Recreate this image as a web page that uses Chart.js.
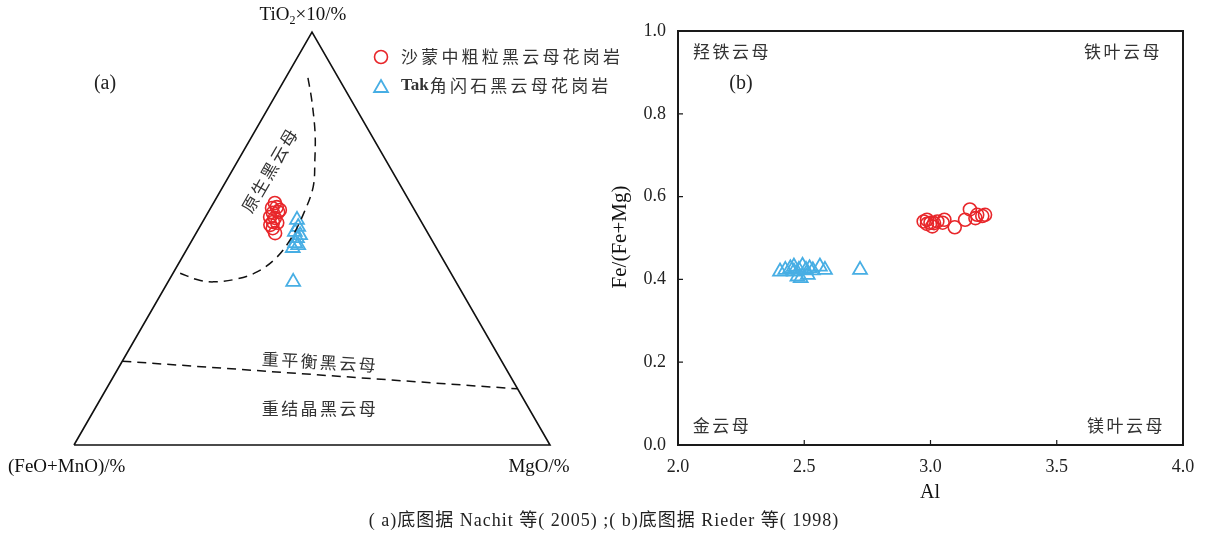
<!DOCTYPE html>
<html><head><meta charset="utf-8">
<script src="https://cdn.jsdelivr.net/npm/chart.js@4.4.1/dist/chart.umd.min.js"></script>
<style>
html,body{margin:0;padding:0;background:#fff;}
#wrap{position:relative;width:1207px;height:544px;background:#fff;}
canvas{position:absolute;left:0;top:0;}
</style></head><body>
<div id="wrap">
<canvas id="ca" width="1207" height="544"></canvas>
<canvas id="cb" width="1207" height="544"></canvas>
</div>
<script>
// ---------------- DATA ----------------
const seriesNames = ['沙蒙中粗粒黑云母花岗岩', 'Tak角闪石黑云母花岗岩'];

// (a) ternary: TiO2×10 (%) and MgO (%) ; (FeO+MnO) = remainder
const shamengTiO2 = [58.6, 57.6, 57.4, 56.4, 56.2, 55.2, 55.0, 54.0, 53.8, 52.5, 51.3, 56.9, 53.3];
const shamengMgO  = [12.9, 13.8, 12.9, 14.7, 13.7, 13.6, 14.7, 14.8, 15.8, 15.5, 16.6, 14.8, 14.6];
const takTiO2     = [54.5, 52.8, 51.6, 50.8, 50.1, 48.9, 48.4, 47.7, 39.5];
const takMgO      = [19.6, 20.7, 20.6, 22.1, 21.8, 22.0, 22.9, 22.1, 26.3];

// ternary frame vertices (TiO2, MgO)
const frameTiO2 = [0, 0, 100, 0];
const frameMgO  = [0, 100, 0, 0];
// field boundary: primary biotite (dashed curve)
const primaryTiO2 = [88.9, 83.5, 75.5, 69.0, 62.5, 56.2, 50.4, 45.5, 41.9, 40.2, 39.5, 40.0, 41.6];
const primaryMgO  = [4.7, 8.2, 12.9, 16.1, 19.0, 20.2, 20.6, 19.9, 17.5, 14.1, 9.5, 6.0, 1.5];
// field boundary: re-equilibrated / recrystallized (dashed line)
const reeqTiO2 = [20.3, 13.6];
const reeqMgO  = [0, 86.4];

// (b) Al vs Fe/(Fe+Mg)
const shamengAl   = [2.973, 2.986, 3.000, 3.014, 3.027, 3.048, 3.055, 3.007, 3.096, 3.137, 3.156, 3.178, 3.185, 3.205, 3.216, 2.986];
const shamengFeMg = [0.540, 0.544, 0.537, 0.536, 0.540, 0.537, 0.544, 0.528, 0.526, 0.544, 0.569, 0.548, 0.556, 0.553, 0.556, 0.534];
const takAl       = [2.404, 2.425, 2.445, 2.459, 2.473, 2.479, 2.493, 2.507, 2.514, 2.521, 2.534, 2.562, 2.582, 2.721, 2.459, 2.486];
const takFeMg     = [0.419, 0.423, 0.427, 0.431, 0.407, 0.423, 0.433, 0.423, 0.411, 0.427, 0.422, 0.431, 0.423, 0.423, 0.419, 0.403];

const xTicks = [2.0, 2.5, 3.0, 3.5, 4.0];
const xTickLabels = ['2.0', '2.5', '3.0', '3.5', '4.0'];
const yTicks = [0.0, 0.2, 0.4, 0.6, 0.8, 1.0];
const yTickLabels = ['0.0', '0.2', '0.4', '0.6', '0.8', '1.0'];

// ---------------- HELPERS ----------------
const RED = '#e8262a', BLUE = '#47aee4';
const SERIF = "'Liberation Serif','Times New Roman',serif";
const CJK = "'Noto Sans CJK SC','Noto Sans CJK JP',sans-serif";
const H3 = Math.sqrt(3) / 2;
function tern(tArr, mArr) {
  return tArr.map((t, i) => ({ x: (mArr[i] + t / 2) / 100, y: (t / 100) * H3 }));
}
function pts(xs, ys) { return xs.map((x, i) => ({ x, y: ys[i] })); }

function drawCircle(ctx, x, y, r, color) {
  ctx.save(); ctx.strokeStyle = color; ctx.lineWidth = 1.6;
  ctx.beginPath(); ctx.arc(x, y, r, 0, Math.PI * 2); ctx.stroke(); ctx.restore();
}
function drawTri(ctx, x, y, r, color) {
  ctx.save(); ctx.strokeStyle = color; ctx.lineWidth = 1.8;
  ctx.beginPath();
  let a = 0;
  for (let k = 0; k < 3; k++) {
    const px = x + Math.sin(a) * r, py = y - Math.cos(a) * r;
    if (k === 0) ctx.moveTo(px, py); else ctx.lineTo(px, py);
    a += 2 * Math.PI / 3;
  }
  ctx.closePath(); ctx.stroke(); ctx.restore();
}
function text(ctx, s, x, y, font, color, align, spacing, rot) {
  ctx.save();
  ctx.font = font; ctx.fillStyle = color || '#222';
  ctx.textAlign = align || 'center'; ctx.textBaseline = 'middle';
  if ('letterSpacing' in ctx) ctx.letterSpacing = (spacing || 0) + 'px';
  ctx.translate(x, y);
  if (rot) ctx.rotate(rot);
  ctx.fillText(s, 0, 0);
  ctx.restore();
}

// ---------------- CHART (a) ----------------
const textA = {
  id: 'textA',
  afterDraw(chart) {
    const ctx = chart.ctx;
    // apex label TiO2×10/%
    ctx.save();
    ctx.fillStyle = '#111'; ctx.textBaseline = 'middle';
    const f1 = '19px ' + SERIF, f2 = '12px ' + SERIF;
    ctx.font = f1; const w1 = ctx.measureText('TiO').width, w3 = ctx.measureText('×10/%').width;
    ctx.font = f2; const w2 = ctx.measureText('2').width;
    let x0 = 303 - (w1 + w2 + w3) / 2;
    ctx.font = f1; ctx.textAlign = 'left'; ctx.fillText('TiO', x0, 15);
    ctx.font = f2; ctx.fillText('2', x0 + w1, 21);
    ctx.font = f1; ctx.fillText('×10/%', x0 + w1 + w2, 15);
    ctx.restore();
    text(ctx, '(a)', 105, 84, '20px ' + SERIF, '#222');
    text(ctx, '(FeO+MnO)/%', 8, 467, '19px ' + SERIF, '#111', 'left');
    text(ctx, 'MgO/%', 539, 467, '19px ' + SERIF, '#111');
    // field names
    text(ctx, '原生黑云母', 270, 170, '17px ' + CJK, '#333', 'center', 2, -Math.PI / 3);
    text(ctx, '重平衡黑云母', 320, 362, '17px ' + CJK, '#333', 'center', 2.4, 0.06);
    text(ctx, '重结晶黑云母', 320, 409, '17px ' + CJK, '#333', 'center', 2.4);
    // legend
    drawCircle(ctx, 381, 57, 6.5, RED);
    drawTri(ctx, 381, 88, 8, BLUE);
    text(ctx, seriesNames[0], 401, 57, '17px ' + CJK, '#333', 'left', 3.2);
    ctx.save();
    ctx.font = 'bold 17px ' + SERIF; const wt = ctx.measureText('Tak').width;
    ctx.restore();
    text(ctx, 'Tak', 401, 86, 'bold 17px ' + SERIF, '#333', 'left');
    text(ctx, seriesNames[1].slice(3), 401 + wt + 1, 86, '17px ' + CJK, '#333', 'left', 3.2);
  }
};

new Chart(document.getElementById('ca'), {
  type: 'scatter',
  data: {
    datasets: [
      { data: tern(frameTiO2, frameMgO), showLine: true, borderColor: '#111', borderWidth: 1.6,
        pointRadius: 0, fill: false, clip: false },
      { data: tern(primaryTiO2, primaryMgO), showLine: true, borderColor: '#111', borderWidth: 1.5,
        borderDash: [9, 6], pointRadius: 0, tension: 0.35, fill: false, clip: false },
      { data: tern(reeqTiO2, reeqMgO), showLine: true, borderColor: '#111', borderWidth: 1.5,
        borderDash: [9, 6], pointRadius: 0, fill: false, clip: false },
      { label: seriesNames[0], data: tern(shamengTiO2, shamengMgO), pointStyle: 'circle', pointRadius: 6.5,
        borderColor: RED, backgroundColor: 'rgba(0,0,0,0)', borderWidth: 1.6, clip: false },
      { label: seriesNames[1], data: tern(takTiO2, takMgO), pointStyle: 'triangle', pointRadius: 8,
        borderColor: BLUE, backgroundColor: 'rgba(0,0,0,0)', borderWidth: 1.8, clip: false }
    ]
  },
  options: {
    responsive: false, animation: false, devicePixelRatio: 1,
    layout: { padding: { left: 74, right: 1207 - 550, top: 32, bottom: 544 - 445 } },
    plugins: { legend: { display: false }, tooltip: { enabled: false } },
    scales: {
      x: { type: 'linear', min: 0, max: 1, display: false },
      y: { type: 'linear', min: 0, max: H3, display: false }
    }
  },
  plugins: [textA]
});

// ---------------- CHART (b) ----------------
const frameB = {
  id: 'frameB',
  afterDatasetsDraw(chart) {
    const ctx = chart.ctx, a = chart.chartArea;
    const xs = chart.scales.x, ys = chart.scales.y;
    ctx.save();
    ctx.strokeStyle = '#1a1a1a'; ctx.lineWidth = 2;
    ctx.strokeRect(a.left, a.top, a.right - a.left, a.bottom - a.top);
    ctx.lineWidth = 1.2;
    ctx.beginPath();
    xTicks.forEach(v => { const p = xs.getPixelForValue(v); ctx.moveTo(p, a.bottom); ctx.lineTo(p, a.bottom - 5); });
    yTicks.forEach(v => { const p = ys.getPixelForValue(v); ctx.moveTo(a.left, p); ctx.lineTo(a.left + 5, p); });
    ctx.stroke();
    ctx.restore();
  },
  afterDraw(chart) {
    const ctx = chart.ctx;
    text(ctx, 'Fe/(Fe+Mg)', 620, 237, '21px ' + SERIF, '#111', 'center', 0, -Math.PI / 2);
    text(ctx, 'Al', 930, 493, '20px ' + SERIF, '#111');
    text(ctx, '羟铁云母', 732, 52, '17px ' + CJK, '#333', 'center', 2.5);
    text(ctx, '铁叶云母', 1123, 52, '17px ' + CJK, '#333', 'center', 2.5);
    text(ctx, '(b)', 741, 84, '20px ' + SERIF, '#222');
    text(ctx, '金云母', 722, 426, '17px ' + CJK, '#333', 'center', 2.5);
    text(ctx, '镁叶云母', 1126, 426, '17px ' + CJK, '#333', 'center', 2.5);
    ctx.save();
    ctx.font = "18px 'Liberation Serif','Noto Sans CJK SC',serif";
    ctx.fillStyle = '#222'; ctx.textAlign = 'center'; ctx.textBaseline = 'middle';
    if ('letterSpacing' in ctx) ctx.letterSpacing = '1px';
    ctx.fillText('( a)底图据 Nachit 等( 2005) ;( b)底图据 Rieder 等( 1998)', 604, 521, 503);
    ctx.restore();
  }
};

new Chart(document.getElementById('cb'), {
  type: 'scatter',
  data: {
    datasets: [
      { label: seriesNames[0], data: pts(shamengAl, shamengFeMg), pointStyle: 'circle', pointRadius: 6.5,
        borderColor: RED, backgroundColor: 'rgba(0,0,0,0)', borderWidth: 1.6 },
      { label: seriesNames[1], data: pts(takAl, takFeMg), pointStyle: 'triangle', pointRadius: 8,
        borderColor: BLUE, backgroundColor: 'rgba(0,0,0,0)', borderWidth: 1.8 }
    ]
  },
  options: {
    responsive: false, animation: false, devicePixelRatio: 1,
    layout: { padding: { left: 600, right: 1207 - 1183, top: 31, bottom: 39 } },
    plugins: { legend: { display: false }, tooltip: { enabled: false } },
    scales: {
      x: {
        type: 'linear', min: 2, max: 4,
        afterBuildTicks: s => { s.ticks = xTicks.map(v => ({ value: v })); },
        afterFit: s => { s.height = 60; },
        grid: { display: false, drawTicks: false }, border: { display: false },
        ticks: { padding: 11, color: '#222', font: { family: SERIF, size: 18 },
                 maxRotation: 0, autoSkip: false,
                 callback: (v) => xTickLabels[xTicks.indexOf(v)] }
      },
      y: {
        type: 'linear', min: 0, max: 1,
        afterBuildTicks: s => { s.ticks = yTicks.map(v => ({ value: v })); },
        afterFit: s => { s.width = 78; },
        grid: { display: false, drawTicks: false }, border: { display: false },
        ticks: { padding: 12, color: '#222', font: { family: SERIF, size: 18 }, autoSkip: false,
                 callback: (v) => yTickLabels[yTicks.indexOf(v)] }
      }
    }
  },
  plugins: [frameB]
});
</script>
</body></html>
